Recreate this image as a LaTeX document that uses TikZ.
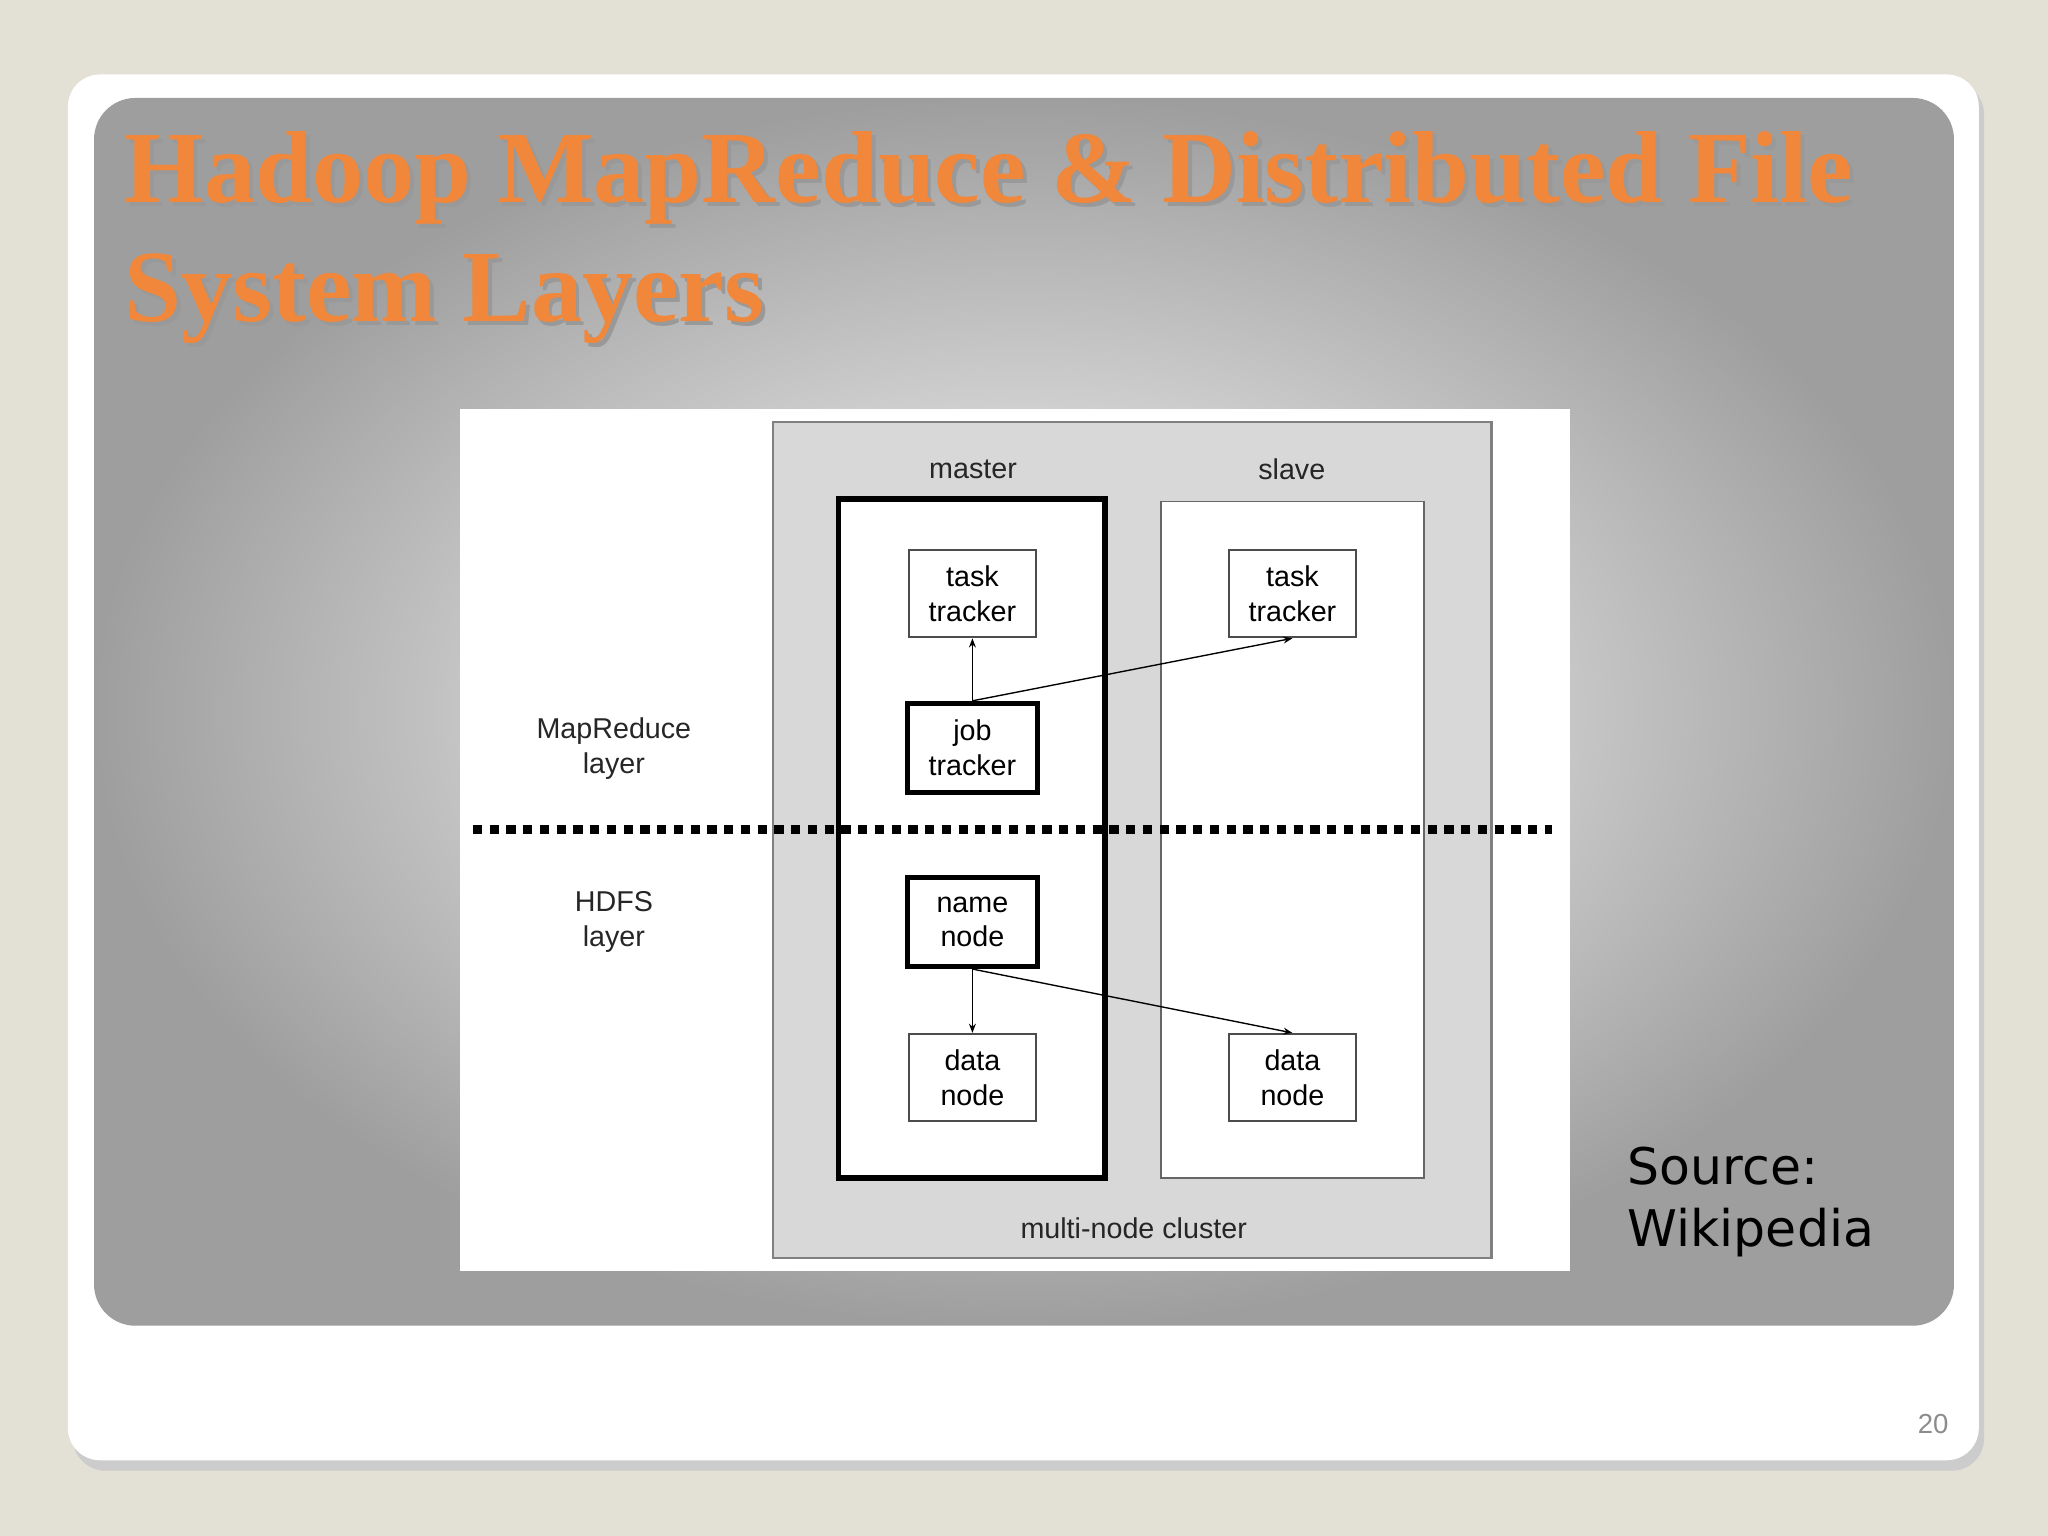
\documentclass[tikz,border=0pt]{standalone}
\usepackage{fontspec}
\setmainfont{Liberation Sans}
\newfontfamily\titlefont{Liberation Serif}
\newfontfamily\srcfont{DejaVu Sans}
\usetikzlibrary{arrows.meta,shadows}
\definecolor{bgbeige}{HTML}{E3E0D5}
\definecolor{ttl}{HTML}{F0873A}
\definecolor{clus}{HTML}{D8D8D8}
\tikzset{
 box/.style={draw=black!70,fill=white,line width=0.8pt,minimum width=97*0.02cm,minimum height=67*0.02cm,align=center,font=\fontsize{12.5}{15}\selectfont,inner sep=0pt},
 thickbox/.style={box,draw=black,line width=2.2pt,minimum width=99*0.02cm,minimum height=68*0.02cm},
 lbl/.style={font=\fontsize{12.5}{15}\selectfont,align=center,text=black!85},
 arr/.style={-{Stealth[length=4pt,width=3pt]},line width=0.6pt},
 ttlf/.style={anchor=west,inner sep=0pt,font=\titlefont\bfseries\fontsize{44.6}{52}\selectfont}
}
\begin{document}
\begin{tikzpicture}[x=0.02cm,y=-0.02cm]
\fill[bgbeige] (0,0) rectangle (1568,1176);
\useasboundingbox (0,0) rectangle (1568,1176);
\fill[black!20] (56,63) [rounded corners=14] rectangle (1519,1126);
\fill[white,rounded corners=14] (52,57) rectangle (1515,1118);
\shade[rounded corners=18,inner color=white,outer color=black!38] (72,75) rectangle (1496,1015);
\node[ttlf,text=black!40] at (98,139) {Hadoop MapReduce \& Distributed File};
\node[ttlf,text=ttl] (t1) at (95,136) {Hadoop MapReduce \& Distributed File};
\node[ttlf,text=black!40] at (98,232) {System Layers};
\node[ttlf,text=ttl] (t2) at (95,229) {System Layers};
\fill[white] (352,313) rectangle (1202,973);
\draw[fill=clus,draw=black!50,line width=1pt] (592,323) rectangle (1142,963);
\draw[fill=white,draw=black!60,line width=0.8pt] (889,384) rectangle (1090,902);
\draw[fill=white,draw=black,line width=2.4pt] (642,382) rectangle (846,902);
\node[lbl] (m) at (745,359) {master};
\node[lbl] (s) at (989,359) {slave};
\node[lbl] (mc) at (868,940) {multi-node cluster};
\node[lbl] (mr) at (470,573) {MapReduce\\layer};
\node[lbl] (hd) at (470,706) {HDFS\\layer};
\node[box] (tt1) at (744.5,454.5) {task\\tracker};
\node[box] (tt2) at (989.5,454.5) {task\\tracker};
\node[thickbox] (jt) at (744.5,572.5) {job\\tracker};
\node[thickbox] (nn) at (744.5,706) {name\\node};
\node[box] (dn1) at (744.5,825) {data\\node};
\node[box] (dn2) at (989.5,825) {data\\node};
\coordinate (d1) at (362,635);
\coordinate (d2) at (1188,635);
\draw[line width=4pt,dash pattern=on 4pt off 3.3pt] (d1) -- (d2);
\draw[arr] (jt.north) -- (tt1.south);
\draw[arr] (jt.north) -- (tt2.south);
\draw[arr] (nn.south) -- (dn1.north);
\draw[arr] (nn.south) -- (dn2.north);
\node[anchor=north west,align=left,font=\srcfont\fontsize{22}{27}\selectfont] (src) at (1240,872) {Source:\\Wikipedia};
\node[text=black!45,font=\fontsize{12}{14}\selectfont] (pg) at (1480,1090) {20};
\end{tikzpicture}
\end{document}
